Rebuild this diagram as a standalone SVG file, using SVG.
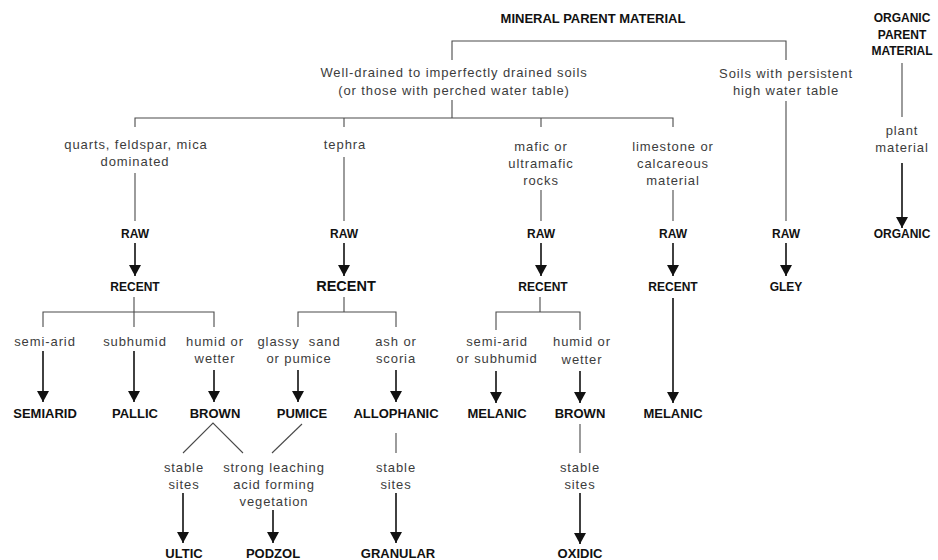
<svg xmlns="http://www.w3.org/2000/svg" width="938" height="560" viewBox="0 0 938 560">
<defs>
<marker id="ah" viewBox="0 -6 11 12" refX="11" refY="0" markerWidth="12" markerHeight="12" markerUnits="userSpaceOnUse" orient="auto">
<path d="M0,-6 L11,0 L0,6 z" fill="#111"/>
</marker>
<style>
.lbl{font-family:"Liberation Sans",Arial,sans-serif;font-size:13px;letter-spacing:0.9px;fill:#3c3c3c;text-anchor:middle}
.nd{font-family:"Liberation Sans",Arial,sans-serif;font-size:13px;font-weight:bold;fill:#111;text-anchor:middle}
.sm{font-size:12px}
.big{font-size:14.5px}
.thin{stroke:#4a4a4a;stroke-width:1.1;fill:none}
.arr{stroke:#111;stroke-width:1.6;fill:none;marker-end:url(#ah)}
</style>
</defs>
<rect width="938" height="560" fill="#fff"/>

<g id="connectors">
<path class="thin" d="M452,60 V41 H786 V60"/>
<path class="thin" d="M452,100 V118"/>
<path class="thin" d="M135,127 V118 H673 V127"/>
<path class="thin" d="M344,118 V127"/>
<path class="thin" d="M541,118 V127"/>
<path class="thin" d="M135,173 V221"/>
<path class="thin" d="M344,157 V221"/>
<path class="thin" d="M541,190 V221"/>
<path class="thin" d="M673,190 V221"/>
<path class="thin" d="M786,101 V221"/>
<path class="thin" d="M902,63 V117"/>
<line class="arr" x1="902" y1="163" x2="902" y2="228"/>
<line class="arr" x1="135" y1="243" x2="135" y2="276"/>
<line class="arr" x1="344" y1="243" x2="344" y2="276"/>
<line class="arr" x1="541" y1="243" x2="541" y2="276"/>
<line class="arr" x1="673" y1="243" x2="673" y2="276"/>
<line class="arr" x1="786" y1="243" x2="786" y2="276"/>
<path class="thin" d="M134,297 V312"/>
<path class="thin" d="M43,327 V312 H214 V327"/>
<path class="thin" d="M134,312 V327"/>
<line class="arr" x1="43" y1="351" x2="43" y2="402"/>
<line class="arr" x1="134" y1="351" x2="134" y2="402"/>
<line class="arr" x1="214" y1="370" x2="214" y2="402"/>
<path class="thin" d="M344,297 V312"/>
<path class="thin" d="M298,327 V312 H396 V327"/>
<line class="arr" x1="298" y1="370" x2="298" y2="402"/>
<line class="arr" x1="396" y1="370" x2="396" y2="402"/>
<path class="thin" d="M540,297 V312"/>
<path class="thin" d="M496,330 V312 H580 V330"/>
<line class="arr" x1="496" y1="371" x2="496" y2="403"/>
<line class="arr" x1="580" y1="371" x2="580" y2="403"/>
<line class="arr" x1="673" y1="298" x2="673" y2="403"/>
<path class="thin" d="M183,453 L213,423 L243,453"/>
<path class="thin" d="M302,424 L272,453"/>
<line class="arr" x1="183" y1="493" x2="183" y2="543"/>
<line class="arr" x1="273" y1="510" x2="273" y2="543"/>
<path class="thin" d="M396,433 V453"/>
<line class="arr" x1="396" y1="493" x2="396" y2="543"/>
<path class="thin" d="M580,424 V453"/>
<line class="arr" x1="580" y1="493" x2="580" y2="544"/>
</g>

<g id="n-mineral"><text class="nd" x="593" y="22.5">MINERAL PARENT MATERIAL</text></g>
<g id="n-organic-parent"><text class="nd sm" x="902" y="22">ORGANIC</text><text class="nd sm" x="902" y="39">PARENT</text><text class="nd sm" x="902" y="55">MATERIAL</text></g>
<g id="n-welldrained"><text class="lbl" x="454" y="77">Well-drained to imperfectly drained soils</text><text class="lbl" x="454" y="94.5">(or those with perched water table)</text></g>
<g id="n-highwater"><text class="lbl" x="786" y="77.5">Soils with persistent</text><text class="lbl" x="786" y="94.5">high water table</text></g>
<g id="n-plant"><text class="lbl" x="902" y="134.5">plant</text><text class="lbl" x="902" y="151.5">material</text></g>
<g id="n-quarts"><text class="lbl" x="136" y="148.5">quarts, feldspar, mica</text><text class="lbl" x="135" y="166">dominated</text></g>
<g id="n-tephra"><text class="lbl" x="345" y="148.5">tephra</text></g>
<g id="n-mafic"><text class="lbl" x="541" y="150.5">mafic or</text><text class="lbl" x="541" y="167.5">ultramafic</text><text class="lbl" x="541" y="184.5">rocks</text></g>
<g id="n-limestone"><text class="lbl" x="673" y="150.5">limestone or</text><text class="lbl" x="673" y="167.5">calcareous</text><text class="lbl" x="673" y="184.5">material</text></g>

<g id="n-raw1"><text class="nd sm" x="135" y="237.5">RAW</text></g>
<g id="n-raw2"><text class="nd sm" x="344" y="237.5">RAW</text></g>
<g id="n-raw3"><text class="nd sm" x="541" y="237.5">RAW</text></g>
<g id="n-raw4"><text class="nd sm" x="673" y="237.5">RAW</text></g>
<g id="n-raw5"><text class="nd sm" x="786" y="237.5">RAW</text></g>
<g id="n-organic"><text class="nd sm" x="902" y="238">ORGANIC</text></g>

<g id="n-recent1"><text class="nd sm" x="135" y="290.5">RECENT</text></g>
<g id="n-recent2"><text class="nd big" x="346" y="291">RECENT</text></g>
<g id="n-recent3"><text class="nd sm" x="543" y="290.5">RECENT</text></g>
<g id="n-recent4"><text class="nd sm" x="673" y="290.5">RECENT</text></g>
<g id="n-gley"><text class="nd sm" x="786" y="290.5">GLEY</text></g>

<g id="n-semiarid-lbl"><text class="lbl" x="45" y="345.5">semi-arid</text></g>
<g id="n-subhumid-lbl"><text class="lbl" x="135" y="345.5">subhumid</text></g>
<g id="n-humid1-lbl"><text class="lbl" x="215" y="345.5">humid or</text><text class="lbl" x="215" y="363">wetter</text></g>
<g id="n-glassy-lbl"><text class="lbl" x="299" y="345.5">glassy&#160; sand</text><text class="lbl" x="299" y="363">or pumice</text></g>
<g id="n-ash-lbl"><text class="lbl" x="396" y="345.5">ash or</text><text class="lbl" x="396" y="363">scoria</text></g>
<g id="n-semiarid2-lbl"><text class="lbl" x="497" y="345.5">semi-arid</text><text class="lbl" x="497" y="363">or subhumid</text></g>
<g id="n-humid2-lbl"><text class="lbl" x="582" y="346">humid or</text><text class="lbl" x="582" y="363.5">wetter</text></g>

<g id="n-semiarid"><text class="nd" x="45" y="417.5">SEMIARID</text></g>
<g id="n-pallic"><text class="nd" x="135" y="417.5">PALLIC</text></g>
<g id="n-brown1"><text class="nd" x="215" y="417.5">BROWN</text></g>
<g id="n-pumice"><text class="nd" x="302" y="417.5">PUMICE</text></g>
<g id="n-allophanic"><text class="nd" x="396" y="417.5">ALLOPHANIC</text></g>
<g id="n-melanic1"><text class="nd" x="497" y="417.5">MELANIC</text></g>
<g id="n-brown2"><text class="nd" x="580" y="417.5">BROWN</text></g>
<g id="n-melanic2"><text class="nd" x="673" y="417.5">MELANIC</text></g>

<g id="n-stable1"><text class="lbl" x="184" y="471.5">stable</text><text class="lbl" x="184" y="489">sites</text></g>
<g id="n-leaching"><text class="lbl" x="274" y="471.5">strong leaching</text><text class="lbl" x="274" y="489">acid forming</text><text class="lbl" x="274" y="506">vegetation</text></g>
<g id="n-stable2"><text class="lbl" x="396" y="471.5">stable</text><text class="lbl" x="396" y="489">sites</text></g>
<g id="n-stable3"><text class="lbl" x="580" y="471.5">stable</text><text class="lbl" x="580" y="489">sites</text></g>

<g id="n-ultic"><text class="nd" x="184" y="557.5">ULTIC</text></g>
<g id="n-podzol"><text class="nd" x="273" y="557.5">PODZOL</text></g>
<g id="n-granular"><text class="nd" x="398" y="557.5">GRANULAR</text></g>
<g id="n-oxidic"><text class="nd" x="580" y="557.5">OXIDIC</text></g>
</svg>
